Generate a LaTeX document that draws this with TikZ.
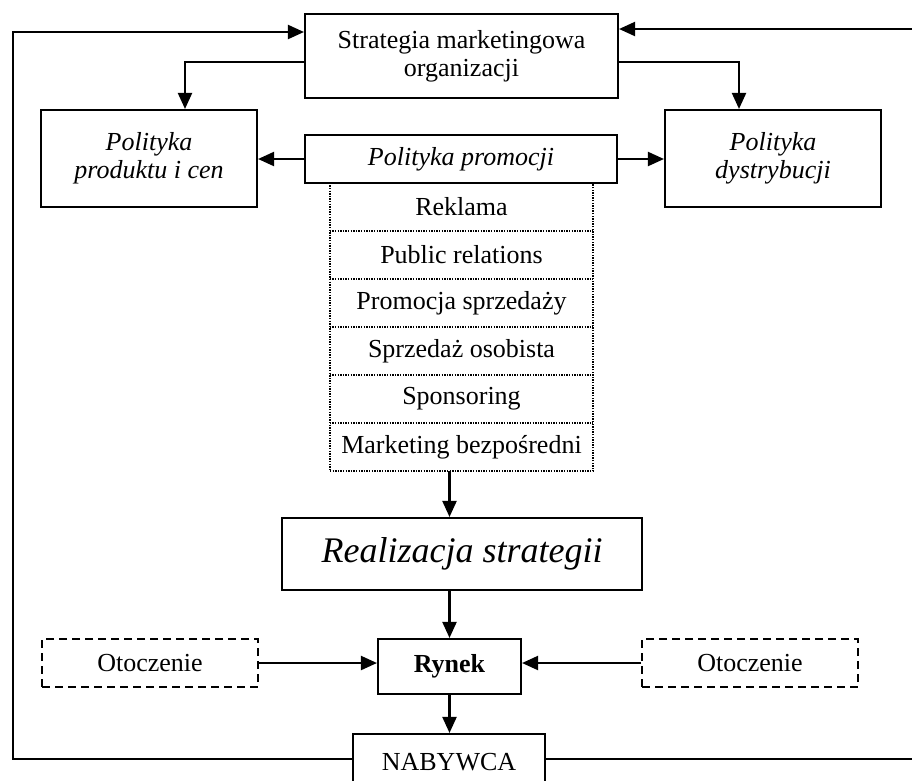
\documentclass[tikz,border=0pt]{standalone}
\usepackage{fontspec}
\setmainfont{Liberation Serif}
\usetikzlibrary{arrows.meta}
\begin{document}
\begin{tikzpicture}[x=1pt,y=-1pt,
  box/.style={draw,line width=2.1pt,rectangle,inner sep=0pt,align=center,
    font=\fontsize{26}{28}\selectfont},
  rowbox/.style={draw=none,rectangle,inner sep=0pt,align=center,
    minimum width=263pt,minimum height=48pt,font=\fontsize{26}{28}\selectfont},
  dashbox/.style={box,line width=1.8pt,dash pattern=on 8pt off 5pt},
  dotline/.style={line width=1.5pt,dash pattern=on 1.4pt off 1.2pt},
  arr/.style={line width=2.1pt,-{Triangle[length=16pt,width=14pt]}},
  ln/.style={line width=2.1pt}]
\clip (0,0) rectangle (912,780);
\fill[white] (0,0) rectangle (912,780);

\node[box,minimum width=313pt,minimum height=84pt] (strat) at (461.5,56)
  {Strategia marketingowa\\organizacji};
\node[box,minimum width=216pt,minimum height=97pt] (lbox) at (149,158.5)
  {\itshape Polityka\\\itshape produktu i cen};
\node[box,minimum width=216pt,minimum height=97pt] (rbox) at (773,158.5)
  {\itshape Polityka\\\itshape dystrybucji};
\node[box,minimum width=312pt,minimum height=48pt] (prom) at (461,159)
  {\itshape Polityka promocji};

\node[rowbox] (r1) at (461.5,207) {Reklama};
\node[rowbox] (r2) at (461.5,255) {Public relations};
\node[rowbox] (r3) at (461.5,303) {Promocja sprzedaży};
\node[rowbox] (r4) at (461.5,351) {Sprzedaż osobista};
\node[rowbox] (r5) at (461.5,399) {Sponsoring};
\node[rowbox] (r6) at (461.5,447) {Marketing bezpośredni};
\draw[dotline] (r1.north west) rectangle (r6.south east);
\foreach \r in {r1,r2,r3,r4,r5}{\draw[dotline] (\r.south west) -- (\r.south east);}

\node[box,minimum width=360pt,minimum height=72pt,font=\fontsize{36}{40}\selectfont\itshape] (real) at (462,554)
  {Realizacja strategii};
\node[box,minimum width=143pt,minimum height=55pt,font=\fontsize{26}{28}\selectfont\bfseries] (rynek) at (449.5,666.5)
  {Rynek};
\node[dashbox,minimum width=216pt,minimum height=48pt] (otl) at (150,663) {Otoczenie};
\node[dashbox,minimum width=216pt,minimum height=48pt] (otr) at (750,663) {Otoczenie};
\node[box,minimum width=192pt,minimum height=56pt] (nab) at (449,762) {NABYWCA};

\coordinate (lb) at (13,759);
\coordinate (lt) at (13,32);
\coordinate (rt) at (912,29);
\coordinate (rb) at (912,759);

\draw[arr] ([yshift=3pt]nab.west) -- (lb) -- (lt) -- (lt -| strat.west);
\draw[arr] (rt) -- (rt -| strat.east);
\draw[ln] ([yshift=3pt]nab.east) -- (rb);

\draw[arr] ([yshift=-6pt]strat.west) -| ([xshift=36pt]lbox.north);
\draw[arr] ([yshift=-6pt]strat.east) -| ([xshift=-34pt]rbox.north);
\draw[arr] (prom.west) -- (prom.west -| lbox.east);
\draw[arr] (prom.east) -- (prom.east -| rbox.west);

\draw[arr] ([xshift=-12pt]r6.south) -- ([xshift=-12pt]r6.south |- real.north);
\draw[arr] (rynek.north |- real.south) -- (rynek.north);
\draw[arr] (rynek.south) -- (rynek.south |- nab.north);
\draw[arr] (otl.east) -- (otl.east -| rynek.west);
\draw[arr] (otr.west) -- (otr.west -| rynek.east);
\end{tikzpicture}
\end{document}
